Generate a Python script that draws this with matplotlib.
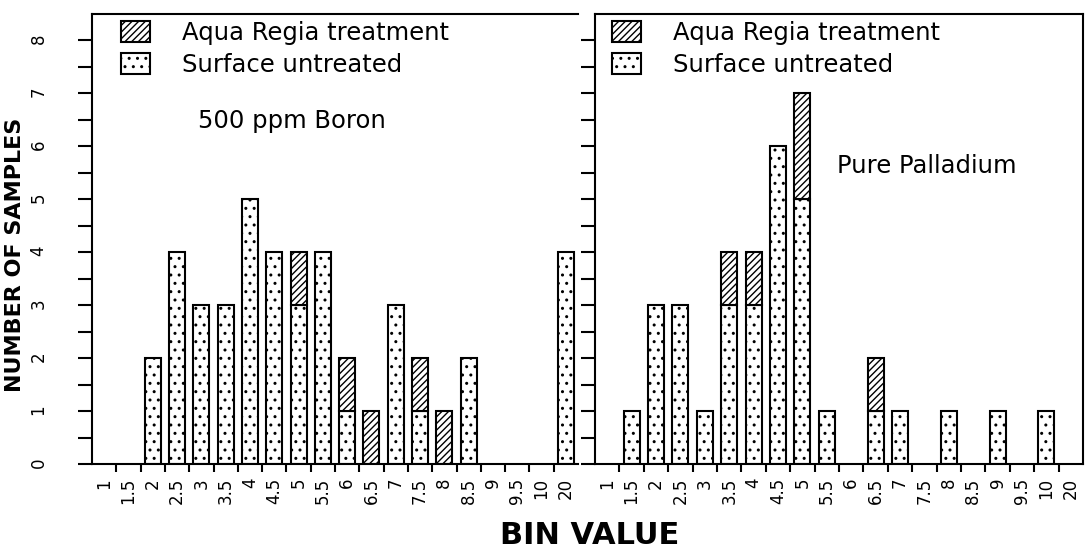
import numpy as np
import matplotlib.pyplot as plt
from matplotlib.patches import Patch

# ==============================
# Data
# ==============================
bins = ['1', '1.5', '2', '2.5', '3', '3.5', '4', '4.5', '5', '5.5',
        '6', '6.5', '7', '7.5', '8', '8.5', '9', '9.5', '10', '20']

boron_untreated = [0, 0, 2, 4, 3, 3, 5, 4, 3, 4, 1, 0, 3, 1, 0, 2, 0, 0, 0, 4]
boron_aqua      = [0, 0, 0, 0, 0, 0, 0, 0, 1, 0, 1, 1, 0, 1, 1, 0, 0, 0, 0, 0]

pd_untreated = [0, 1, 3, 3, 1, 3, 3, 6, 5, 1, 0, 1, 1, 0, 1, 0, 1, 0, 1, 0]
pd_aqua      = [0, 0, 0, 0, 0, 1, 1, 0, 2, 0, 0, 1, 0, 0, 0, 0, 0, 0, 0, 0]

# ==============================
# Figure setup (pixel layout)
# ==============================
W, H = 1086, 548
plt.rcParams['font.family'] = 'DejaVu Sans'
plt.rcParams['hatch.linewidth'] = 1.0
fig = plt.figure(figsize=(W / 100, H / 100), dpi=100)

y_top, y_bot = 14, 464


def px_axes(x0, x1):
    return fig.add_axes([x0 / W, (H - y_bot) / H, (x1 - x0) / W, (y_bot - y_top) / H])


ax_l = px_axes(92, 578)
ax_r = px_axes(595, 1083)

legend_handles = [
    Patch(facecolor='white', edgecolor='black', hatch='/////', lw=1.5, label='Aqua Regia treatment'),
    Patch(facecolor='white', edgecolor='black', hatch='..', lw=1.5, label='Surface untreated'),
]


def draw_panel(ax, untreated, aqua, show_labels, legend_x):
    x = np.arange(len(bins))
    u = np.array(untreated)
    a = np.array(aqua)
    m = u > 0
    ax.bar(x[m], u[m], width=0.66, color='white', edgecolor='black',
           hatch='..', lw=1.5)
    m = a > 0
    ax.bar(x[m], a[m], bottom=u[m], width=0.66, color='white', edgecolor='black',
           hatch='/////', lw=1.5)

    ax.set_xlim(-0.5, len(bins) - 0.5)
    ax.set_ylim(0, 8.5)

    # category labels at centres, tick marks at bin boundaries
    ax.set_xticks(x)
    ax.set_xticklabels(bins, rotation=90, fontsize=12)
    ax.set_xticks(np.arange(0.5, len(bins) - 0.5, 1.0), minor=True)
    ax.tick_params(axis='x', which='major', length=0, pad=10)
    ax.tick_params(axis='x', which='minor', length=6, width=1.5, direction='out')

    ax.set_yticks(np.arange(0, 9, 1))
    ax.set_yticks(np.arange(0.5, 8.5, 1.0), minor=True)
    ax.tick_params(axis='y', which='both', length=10, width=1.5, direction='out')
    ax.tick_params(axis='y', which='major', pad=22, labelsize=12, labelrotation=90)
    if not show_labels:
        ax.set_yticklabels([])

    for s in ax.spines.values():
        s.set_linewidth(1.5)

    ax.legend(handles=legend_handles, loc='upper left', bbox_to_anchor=(legend_x, 0.985),
              frameon=False, fontsize=17.5, handlelength=1.2, handleheight=0.95,
              handletextpad=1.3, labelspacing=0.35, borderpad=0, borderaxespad=0)


draw_panel(ax_l, boron_untreated, boron_aqua, True, 0.06)
draw_panel(ax_r, pd_untreated, pd_aqua, False, 0.035)
ax_l.spines['right'].set_visible(False)

fig.text(198 / W, 1 - 128 / H, '500 ppm Boron', fontsize=17.5)
fig.text(837 / W, 1 - 173 / H, 'Pure Palladium', fontsize=17.5)

fig.text(15 / W, 1 - 255 / H, 'NUMBER OF SAMPLES', rotation=90, fontsize=16,
         fontweight='bold', ha='center', va='center')
fig.text(590 / W, 1 - 535 / H, 'BIN VALUE', fontsize=22, fontweight='bold',
         ha='center', va='center')

fig.savefig('out.png', dpi=100)
